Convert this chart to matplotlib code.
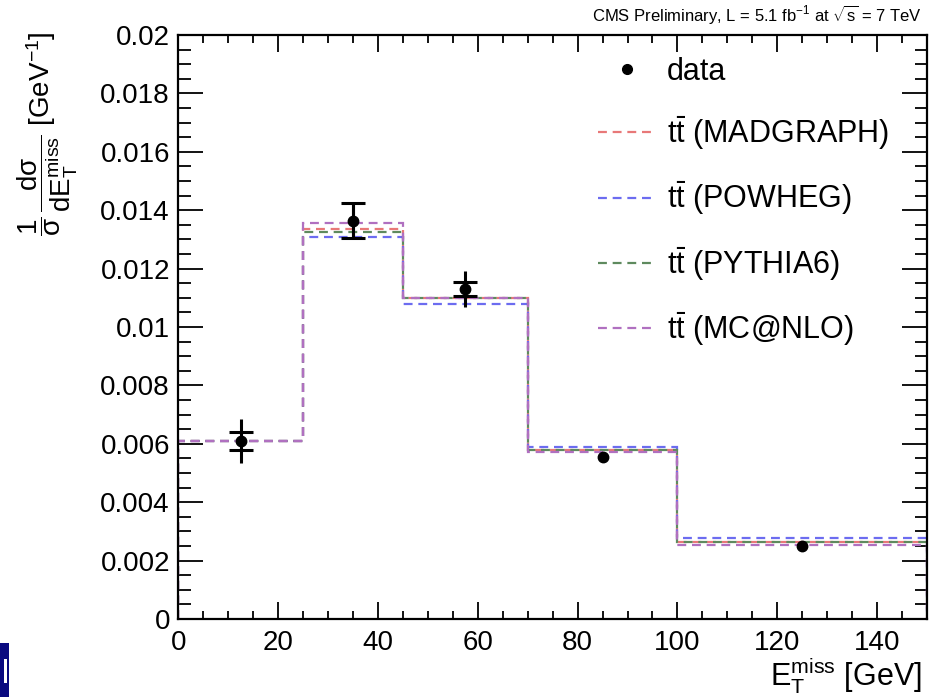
import matplotlib
matplotlib.use("Agg")
import matplotlib.pyplot as plt
from matplotlib.lines import Line2D
from matplotlib.patches import Rectangle
from matplotlib.ticker import MultipleLocator, FixedFormatter, FixedLocator
import numpy as np

plt.rcParams["font.family"] = ["Liberation Sans", "DejaVu Sans"]
plt.rcParams["mathtext.fontset"] = "custom"
plt.rcParams["mathtext.rm"] = "Liberation Sans"
plt.rcParams["mathtext.it"] = "Liberation Sans"
plt.rcParams["mathtext.bf"] = "Liberation Sans:bold"

# Bin edges of the missing transverse energy distribution (GeV)
bin_edges = [0, 25, 45, 70, 100, 150]

# Measured normalised cross section
data_x = [12.5, 35, 57.5, 85, 125]
data_y = [0.0061, 0.01364, 0.0113, 0.00556, 0.0025]
data_stat = [0.0003, 0.0006, 0.00025, 0.0, 0.0]
data_total = [0.00075, 0.00062, 0.00063, 0.0001, 0.00005]

# Simulation predictions
madgraph = [0.0061, 0.01336, 0.01098, 0.00579, 0.00265]
powheg = [0.0061, 0.01309, 0.01079, 0.0059, 0.00276]
pythia6 = [0.0061, 0.01324, 0.01098, 0.00579, 0.00265]
mcatnlo = [0.0061, 0.01355, 0.01098, 0.00572, 0.00253]

model_labels = [r"t$\bar{\mathrm{t}}$ (MADGRAPH)", r"t$\bar{\mathrm{t}}$ (POWHEG)",
                r"t$\bar{\mathrm{t}}$ (PYTHIA6)", r"t$\bar{\mathrm{t}}$ (MC@NLO)"]
model_colors = ["#e87878", "#6c6cf0", "#5e8a5e", "#b070c0"]

x_ticks = [0, 20, 40, 60, 80, 100, 120, 140]
y_ticks = [0, 0.002, 0.004, 0.006, 0.008, 0.01, 0.012, 0.014, 0.016, 0.018, 0.02]
y_tick_labels = ["0", "0.002", "0.004", "0.006", "0.008", "0.01", "0.012",
                 "0.014", "0.016", "0.018", "0.02"]

fig = plt.figure(figsize=(9.5, 6.97), dpi=100)
ax = fig.add_axes([0.1877, 0.1119, 0.7881, 0.8379])

dash = (0, (4.0, 2.6))
for vals, col in zip([madgraph, powheg, pythia6, mcatnlo], model_colors):
    ax.stairs(vals, bin_edges, color=col, lw=1.6, linestyle=dash, zorder=2)

# total uncertainty (no caps) with the data points
ax.errorbar(data_x, data_y, yerr=data_total, fmt="o", color="black", ms=7.5,
            ecolor="black", elinewidth=2.2, capsize=0, zorder=4)
# statistical uncertainty (with caps), where it is resolvable
stat_idx = [i for i, e in enumerate(data_stat) if e > 0]
ax.errorbar([data_x[i] for i in stat_idx], [data_y[i] for i in stat_idx],
            yerr=[data_stat[i] for i in stat_idx], fmt="none", ecolor="black",
            elinewidth=2.2, capsize=8.5, capthick=2.2, zorder=3)

ax.set_xlim(0, 150)
ax.set_ylim(0, 0.02)
ax.xaxis.set_major_locator(FixedLocator(x_ticks))
ax.xaxis.set_minor_locator(MultipleLocator(5))
ax.yaxis.set_major_locator(FixedLocator(y_ticks))
ax.yaxis.set_major_formatter(FixedFormatter(y_tick_labels))
ax.yaxis.set_minor_locator(MultipleLocator(0.0005))

for s in ax.spines.values():
    s.set_linewidth(1.6)

ax.tick_params(axis="both", which="both", direction="in", top=True, right=True,
               labelsize=20, width=1.3, colors="black")
ax.tick_params(axis="x", which="major", length=12, pad=8)
ax.tick_params(axis="x", which="minor", length=6)
ax.tick_params(axis="y", which="major", length=18, pad=6)
ax.tick_params(axis="y", which="minor", length=9)

# legend
handles = [Line2D([], [], marker="o", ls="none", color="black", ms=7)]
for col in model_colors:
    handles.append(Line2D([], [], color=col, lw=1.6, linestyle=(0, (4.0, 2.6))))
labels = ["data"] + model_labels
ax.legend(handles, labels, loc="upper left", bbox_to_anchor=(0.561, 0.963),
          frameon=False, fontsize=22, handlelength=1.9, handletextpad=0.35,
          labelspacing=0.9, borderpad=0, borderaxespad=0)

fig.text(0.9705, 0.979, r"CMS Preliminary, L = 5.1 fb$^{\mathrm{-1}}$ at $\sqrt{s}$ = 7 TeV",
         ha="right", va="center", fontsize=12)

fig.text(0.9705, 0.031, r"E$_\mathrm{T}^\mathrm{miss}$ [GeV]", ha="right",
         va="center", fontsize=22)

fig.text(0.05, 0.955,
         r"$\dfrac{1}{\sigma}\,\dfrac{\mathrm{d}\sigma}{\mathrm{dE}_\mathrm{T}^\mathrm{miss}}$ [GeV$^{\mathrm{-1}}$]",
         rotation=90, ha="center", va="top", fontsize=20)

# corner badge
fig.patches.append(Rectangle((0, 0), 9 / 950, 54 / 697, transform=fig.transFigure,
                             facecolor="#0a0a80", edgecolor="none"))
fig.patches.append(Rectangle((4 / 950, 14 / 697), 2.5 / 950, 24 / 697,
                             transform=fig.transFigure, facecolor="white",
                             edgecolor="none"))

fig.savefig("out.png", dpi=100)
